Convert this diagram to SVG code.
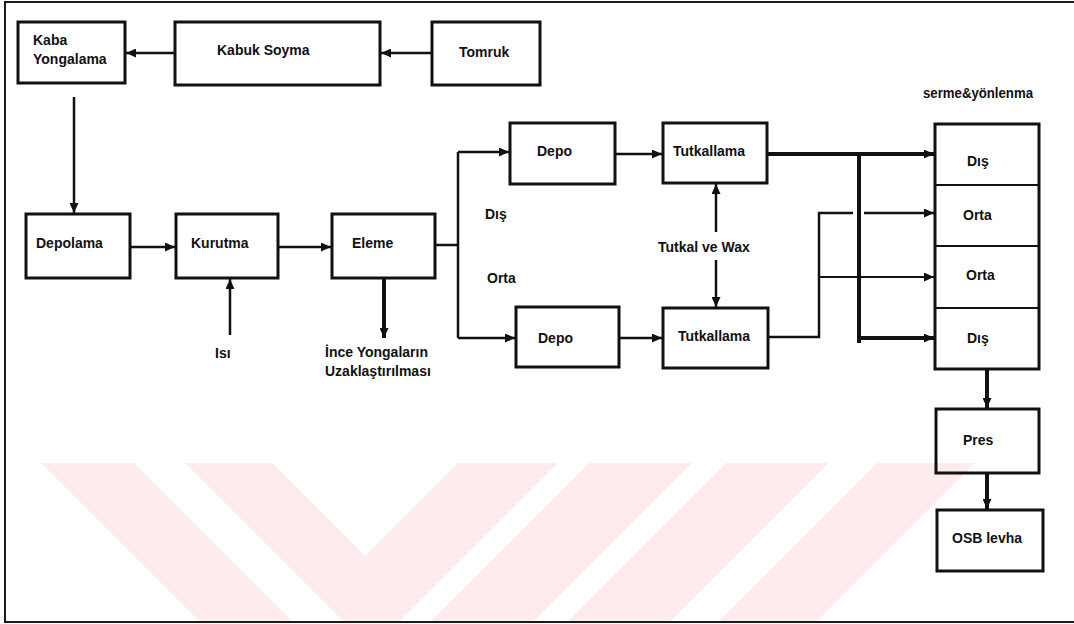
<svg xmlns="http://www.w3.org/2000/svg" width="1074" height="624" viewBox="0 0 1074 624">
  <defs>
    <style>
      .wm { fill: #fdebee; }
      .frame { fill: none; stroke: #1a1a1a; stroke-width: 2; }
      .box { fill: none; stroke: #111; stroke-width: 3; }
      .div { stroke: #111; stroke-width: 2; }
      .c { fill: none; stroke: #111; stroke-width: 2.5; }
      .ct { fill: none; stroke: #111; stroke-width: 1.8; }
      .thick { fill: none; stroke: #111; stroke-width: 4; }
      .arr { marker-end: url(#ah); }
      text { font-family: "Liberation Sans", Arial, sans-serif; font-size: 14px; font-weight: bold; fill: #111; }
    </style>
    <marker id="ah" markerUnits="userSpaceOnUse" markerWidth="11" markerHeight="9" refX="10" refY="4.5" orient="auto">
      <path d="M0,0 L10,4.5 L0,9 z" fill="#111"/>
    </marker>
  </defs>
  <rect width="1074" height="624" fill="#fff"/>

  <g id="watermark">
    <polygon class="wm" points="41,463 134,463 293,622 200,622"/>
    <polygon class="wm" points="185,463 272,463 365,556 458,463 558,463 399,622 344,622"/>
    <polygon class="wm" points="589,463 692,463 533,622 430,622"/>
    <polygon class="wm" points="726,463 829,463 670,622 567,622"/>
    <polygon class="wm" points="877,463 975,463 816,622 718,622"/>
  </g>

  <g id="frame">
    <path class="frame" d="M1074,2 L5,2 L5,622 L1074,622"/>
  </g>

  <g id="connectors">
    <path class="c arr" d="M432,53 L381,53"/>
    <path class="c arr" d="M175,53 L126,53"/>
    <path class="c arr" d="M74,97 L74,213"/>
    <path class="c arr" d="M130,247 L175,247"/>
    <path class="c arr" d="M278,247 L331,247"/>
    <path class="c arr" d="M230,335 L230,279"/>
    <path class="thick arr" d="M384,278 L384,338"/>
    <path class="c" d="M435,245 L458,245"/>
    <path class="c" d="M458,152 L458,338"/>
    <path class="c arr" d="M458,152 L509,152"/>
    <path class="c arr" d="M458,338 L515,338"/>
    <path class="c arr" d="M615,154 L662,154"/>
    <path class="c arr" d="M619,338 L662,338"/>
    <path class="c arr" d="M716,232 L716,184"/>
    <path class="c arr" d="M716,260 L716,307"/>
    <path class="thick arr" d="M767,154 L934,154"/>
    <path class="thick" d="M859,154 L859,343"/>
    <path class="thick arr" d="M859,338 L934,338"/>
    <path class="c" d="M768,337 L819,337 L819,213 L853,213"/>
    <path class="c arr" d="M864,213 L934,213"/>
    <path class="ct arr" d="M819,277 L934,277"/>
    <path class="thick arr" d="M987,369 L987,408"/>
    <path class="thick arr" d="M987,473 L987,509"/>
  </g>

  <g id="kaba-yongalama">
    <rect class="box" x="18" y="22" width="107" height="61"/>
    <text x="33" y="45">Kaba</text>
    <text x="33" y="64">Yongalama</text>
  </g>
  <g id="kabuk-soyma">
    <rect class="box" x="175" y="22" width="205" height="63"/>
    <text x="217" y="55">Kabuk Soyma</text>
  </g>
  <g id="tomruk">
    <rect class="box" x="432" y="22" width="108" height="63"/>
    <text x="459" y="57">Tomruk</text>
  </g>
  <g id="depolama">
    <rect class="box" x="26" y="214" width="104" height="64"/>
    <text x="36" y="248">Depolama</text>
  </g>
  <g id="kurutma">
    <rect class="box" x="176" y="214" width="102" height="64"/>
    <text x="191" y="248">Kurutma</text>
  </g>
  <g id="eleme">
    <rect class="box" x="332" y="214" width="103" height="64"/>
    <text x="352" y="248">Eleme</text>
  </g>
  <g id="isi">
    <text x="215" y="358">Isı</text>
  </g>
  <g id="ince-yongalar">
    <text x="325" y="357">İnce Yongaların</text>
    <text x="325" y="376">Uzaklaştırılması</text>
  </g>
  <g id="label-dis">
    <text x="485" y="219">Dış</text>
  </g>
  <g id="label-orta">
    <text x="487" y="283">Orta</text>
  </g>
  <g id="depo-top">
    <rect class="box" x="510" y="123" width="105" height="61"/>
    <text x="537" y="156">Depo</text>
  </g>
  <g id="tutkallama-top">
    <rect class="box" x="663" y="123" width="104" height="60"/>
    <text x="673" y="156">Tutkallama</text>
  </g>
  <g id="tutkal-wax">
    <text x="658" y="252">Tutkal ve Wax</text>
  </g>
  <g id="depo-bottom">
    <rect class="box" x="516" y="307" width="103" height="60"/>
    <text x="538" y="343">Depo</text>
  </g>
  <g id="tutkallama-bottom">
    <rect class="box" x="663" y="308" width="105" height="60"/>
    <text x="678" y="341">Tutkallama</text>
  </g>
  <g id="serme-yonlenme">
    <text x="923" y="98" textLength="110" lengthAdjust="spacingAndGlyphs">serme&amp;yönlenma</text>
    <rect class="box" x="935" y="124" width="104" height="245"/>
    <line class="div" x1="935" y1="185" x2="1039" y2="185"/>
    <line class="div" x1="935" y1="246" x2="1039" y2="246"/>
    <line class="div" x1="935" y1="308" x2="1039" y2="308"/>
    <text x="967" y="166">Dış</text>
    <text x="963" y="220">Orta</text>
    <text x="966" y="280">Orta</text>
    <text x="967" y="343">Dış</text>
  </g>
  <g id="pres">
    <rect class="box" x="936" y="409" width="103" height="64"/>
    <text x="963" y="445">Pres</text>
  </g>
  <g id="osb-levha">
    <rect class="box" x="937" y="510" width="106" height="61"/>
    <text x="952" y="543">OSB levha</text>
  </g>
</svg>
